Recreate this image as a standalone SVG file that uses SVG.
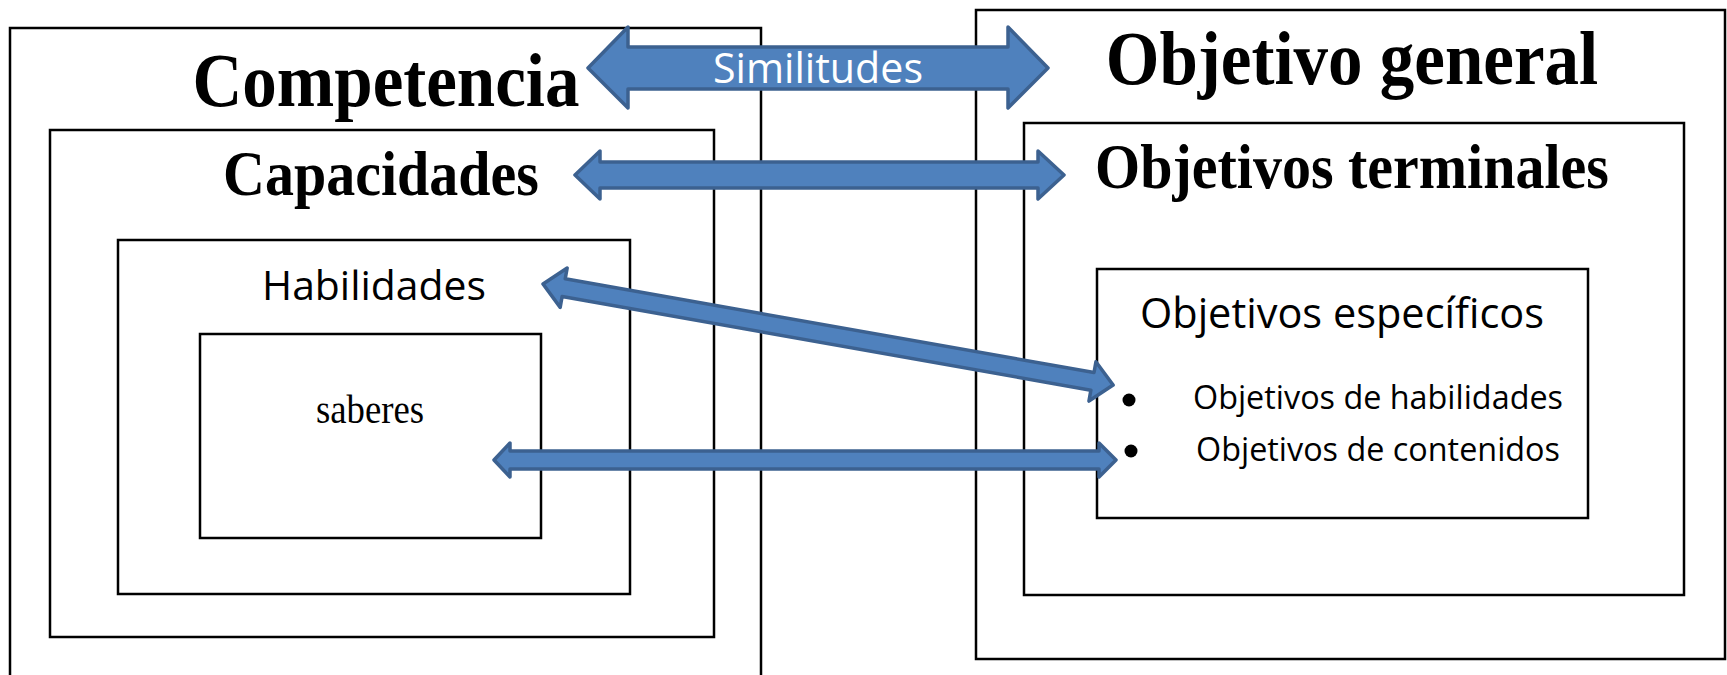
<svg xmlns="http://www.w3.org/2000/svg" width="1727" height="675" viewBox="0 0 1727 675">
<style>
.box{fill:none;stroke:#000;stroke-width:2.5}
.arr{fill:#4F81BD;stroke:#3C6190;stroke-width:3.5;stroke-linejoin:round}
.tb{font-family:"Liberation Serif",serif;font-weight:bold;fill:#000;text-anchor:middle}
.tr{font-family:"Liberation Serif",serif;fill:#000;text-anchor:middle}
.ca{font-family:"Open Sans","Noto Sans",sans-serif;fill:#000}
</style>
<rect width="1727" height="675" fill="#fff"/>
<g id="competencia">
<rect class="box" x="10" y="28" width="751" height="680"/>
<text class="tb" transform="translate(386,106) scale(1,1.1)" font-size="69">Competencia</text>
</g>
<g id="capacidades">
<rect class="box" x="50" y="130" width="664" height="507"/>
<text class="tb" transform="translate(381,195) scale(1,1.08)" font-size="58">Capacidades</text>
</g>
<g id="habilidades">
<rect class="box" x="118" y="240" width="512" height="354"/>
<text class="ca" x="374" y="300" font-size="40" text-anchor="middle" textLength="224" lengthAdjust="spacingAndGlyphs">Habilidades</text>
</g>
<g id="saberes">
<rect class="box" x="200" y="334" width="341" height="204"/>
<text class="tr" transform="translate(370,423) scale(1,1.1)" font-size="37" textLength="108" lengthAdjust="spacingAndGlyphs">saberes</text>
</g>
<g id="objetivo-general">
<rect class="box" x="976" y="10" width="749" height="649"/>
<text class="tb" transform="translate(1352,84) scale(1,1.1)" font-size="69">Objetivo general</text>
</g>
<g id="objetivos-terminales">
<rect class="box" x="1024" y="123" width="660" height="472"/>
<text class="tb" transform="translate(1352,188) scale(1,1.08)" font-size="58">Objetivos terminales</text>
</g>
<g id="objetivos-especificos">
<rect class="box" x="1097" y="269" width="491" height="249"/>
<text class="ca" x="1342" y="328" font-size="42" text-anchor="middle" textLength="404" lengthAdjust="spacingAndGlyphs">Objetivos específicos</text>
<circle cx="1129" cy="400" r="6.5" fill="#000"/>
<circle cx="1131" cy="451" r="6.5" fill="#000"/>
<text class="ca" x="1193" y="409" font-size="32" textLength="370" lengthAdjust="spacingAndGlyphs">Objetivos de habilidades</text>
<text class="ca" x="1196" y="461" font-size="32" textLength="364" lengthAdjust="spacingAndGlyphs">Objetivos de contenidos</text>
</g>
<g id="connectors">
<polygon class="arr" points="588,68 628,27 628,47 1008,47 1008,27 1048,68 1008,108 1008,89 628,89 628,108"/>
<text x="818" y="83" font-family="'Open Sans','Noto Sans',sans-serif" font-size="42" fill="#fff" text-anchor="middle" textLength="210" lengthAdjust="spacingAndGlyphs">Similitudes</text>
<polygon class="arr" points="575,175 600,151 600,162 1038,162 1038,151 1064,175 1038,199 1038,188 600,188 600,199"/>
<polygon class="arr" transform="translate(543,284) rotate(10.05)" points="0,0 21,-20 21,-9 558,-9 558,-20 579,0 558,20 558,9 21,9 21,20"/>
<polygon class="arr" points="494,460 510,443 510,451 1099,451 1099,443 1116,460 1099,477 1099,469 510,469 510,477"/>
</g>
</svg>
